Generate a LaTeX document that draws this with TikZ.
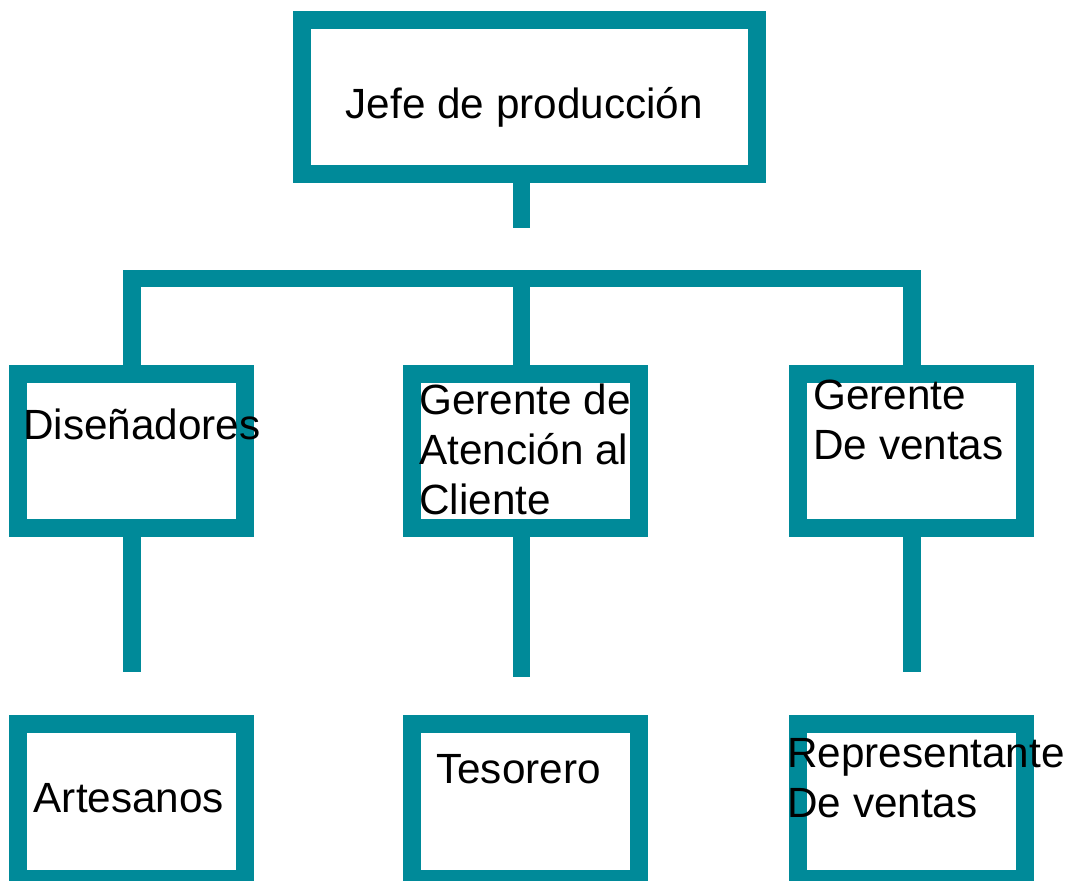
\documentclass[tikz,border=0pt]{standalone}
\usepackage{fontspec}
\setmainfont{Liberation Sans}
\usetikzlibrary{positioning}
\definecolor{orgteal}{RGB}{0,138,153}

\begin{document}
\begin{tikzpicture}[x=0.75pt,y=-0.75pt,
  box/.style={draw=orgteal,line width=13.5pt,minimum width=170.25pt,minimum height=115.5pt,inner sep=0pt},
  link/.style={draw=orgteal,line width=13pt,line join=miter},
  lbl/.style={anchor=base west,inner sep=0pt,align=left,font=\fontsize{31.7}{37.5}\selectfont}]
\useasboundingbox (0,0) rectangle (1071,881);
% Rows
\def\rowone{97}; \def\rowtwo{450.5}; \def\rowthree{801.7};

% Boxes
\node[box,minimum width=340.8pt] (jefe) at (529.5,\rowone) {};
\node[box] (dis) at (131.9,\rowtwo) {};
\node[box] (gac) at (525.1,\rowtwo) {};
\node[box] (gven) at (911.9,\rowtwo) {};
\node[box,minimum height=116pt] (art) at (131.9,\rowthree) {};
\node[box,minimum height=116pt] (tes) at (525.1,\rowthree) {};
\node[box,minimum height=116pt] (rep) at (911.9,\rowthree) {};

% Connectors
\coordinate (stub) at (521.8,227.7);
\coordinate (bar) at (521.8,278.7);
\draw[link] (jefe.south -| stub) -- (stub);
\draw[link] (dis.north) |- (bar) -| (gven.north);
\draw[link] (bar) -- (gac.north -| bar);
\coordinate (dis-end) at (131.9,671.7);
\coordinate (gac-end) at (521.8,677);
\coordinate (gven-end) at (911.9,671.7);
\draw[link] (dis.south) -- (dis-end);
\draw[link] (gac.south -| gac-end) -- (gac-end);
\draw[link] (gven.south) -- (gven-end);

% Labels (base = last line)
\node[lbl] (jefe-t) at (345.5,118) {Jefe de producción};
\node[lbl] (dis-t) at (23,439.3) {Diseñadores};
\node[lbl] (gac-t) at (419,514.3) {Gerente de\\Atención al\\Cliente};
\node[lbl] (gven-t) at (813,459) {Gerente\\De ventas};
\node[lbl] (art-t) at (33.5,812.7) {Artesanos};
\node[lbl] (tes-t) at (436,783.3) {Tesorero};
\node[lbl] (rep-t) at (787,817.7) {Representante\\De ventas};
\end{tikzpicture}
\end{document}
